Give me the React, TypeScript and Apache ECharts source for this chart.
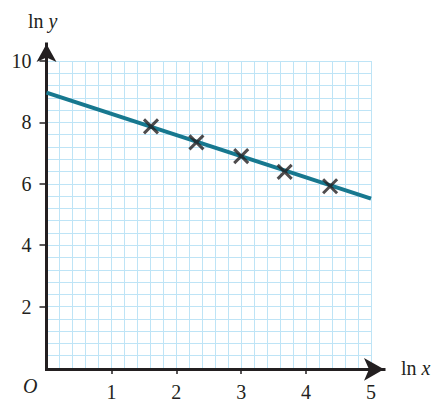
import React, { useEffect, useRef } from "react";
import * as echarts from "echarts";

// Measured points (ln x, ln y)
const pointX = [1.61, 2.31, 3.0, 3.67, 4.37];
const pointY = [7.87, 7.35, 6.9, 6.39, 5.92];
// Line of best fit end points
const fitX = [0, 5];
const fitY = [8.97, 5.52];
// Tick labels
const xTickLabels = [1, 2, 3, 4, 5];
const yTickLabels = [2, 4, 6, 8, 10];

const INK = "#231f20";
const GRIDC = "#bee4f6";
const TEAL = "#17788f";
const FONT = "Liberation Serif";

const labelFor = (list: number[]) => (v: number) =>
  list.indexOf(Math.round(v * 1000) / 1000) >= 0 ? String(v) : "";

export default function App() {
  const ref = useRef<HTMLDivElement>(null);
  useEffect(() => {
    if (!ref.current) return;
    const chart = echarts.init(ref.current, undefined, { renderer: "svg" });
    const option: any = {
      animation: false,
      backgroundColor: "#ffffff",
      textStyle: { fontFamily: FONT },
      grid: [
        { left: 46.5, top: 61, width: 324.5, height: 308.3 },
        { left: 46.5, top: 44, width: 337.5, height: 325.3 },
      ],
      xAxis: [
        {
          type: "value",
          gridIndex: 0,
          min: 0,
          max: 5,
          interval: 1,
          axisLine: { show: false },
          axisTick: {
            show: true,
            customValues: xTickLabels,
            length: 6,
            lineStyle: { color: INK, width: 1.5 },
          },
          minorTick: { show: false, splitNumber: 5 },
          axisLabel: {
            margin: 14,
            color: INK,
            fontFamily: FONT,
            fontSize: 20,
            formatter: labelFor(xTickLabels),
          },
          splitLine: { show: true, lineStyle: { color: GRIDC, width: 1 } },
          minorSplitLine: { show: true, lineStyle: { color: GRIDC, width: 1 } },
        },
        {
          type: "value",
          gridIndex: 1,
          min: 0,
          max: 1,
          axisLine: {
            show: true,
            onZero: false,
            symbol: ["none", "arrow"],
            symbolSize: [17, 20],
            lineStyle: { color: INK, width: 3, cap: "square" },
          },
          axisTick: { show: false },
          axisLabel: { show: false },
          splitLine: { show: false },
        },
      ],
      yAxis: [
        {
          type: "value",
          gridIndex: 0,
          min: 0,
          max: 10,
          interval: 2,
          axisLine: { show: false },
          axisTick: {
            show: true,
            customValues: yTickLabels,
            length: 7,
            lineStyle: { color: INK, width: 1.5 },
          },
          minorTick: { show: false, splitNumber: 5 },
          axisLabel: {
            margin: 15,
            color: INK,
            fontFamily: FONT,
            fontSize: 20,
            formatter: labelFor(yTickLabels),
          },
          splitLine: { show: true, lineStyle: { color: GRIDC, width: 1 } },
          minorSplitLine: { show: true, lineStyle: { color: GRIDC, width: 1 } },
        },
        {
          type: "value",
          gridIndex: 1,
          min: 0,
          max: 1,
          axisLine: {
            show: true,
            onZero: false,
            symbol: ["none", "arrow"],
            symbolSize: [15, 18],
            lineStyle: { color: INK, width: 3, cap: "square" },
          },
          axisTick: { show: false },
          axisLabel: { show: false },
          splitLine: { show: false },
        },
      ],
      series: [
        {
          type: "line",
          xAxisIndex: 0,
          yAxisIndex: 0,
          data: fitX.map((x, i) => [x, fitY[i]]),
          showSymbol: false,
          lineStyle: { color: TEAL, width: 4 },
          z: 2,
        },
        {
          type: "scatter",
          xAxisIndex: 0,
          yAxisIndex: 0,
          data: pointX.map((x, i) => [x, pointY[i]]),
          symbol: "path://M0,0L10,10M10,0L0,10",
          symbolSize: 14,
          itemStyle: { color: "none", borderColor: INK, borderWidth: 3 },
          z: 3,
        },
      ],
      graphic: [
        {
          type: "text",
          left: 23,
          top: 376,
          style: {
            text: "O",
            fontFamily: FONT,
            fontStyle: "italic",
            fontSize: 20,
            fill: INK,
          },
        },
        {
          type: "text",
          x: 28,
          y: 21,
          style: {
            text: "{a|ln }{b|y}",
            verticalAlign: "middle",
            rich: {
              a: { fontFamily: FONT, fontSize: 20, fill: INK, color: INK },
              b: { fontFamily: FONT, fontSize: 20, fontStyle: "italic", fill: INK, color: INK },
            },
          },
        },
        {
          type: "text",
          x: 401,
          y: 368,
          style: {
            text: "{a|ln }{b|x}",
            verticalAlign: "middle",
            rich: {
              a: { fontFamily: FONT, fontSize: 20, fill: INK, color: INK },
              b: { fontFamily: FONT, fontSize: 20, fontStyle: "italic", fill: INK, color: INK },
            },
          },
        },
      ],
    };
    chart.setOption(option);
    return () => chart.dispose();
  }, []);
  return (
    <div
      ref={ref}
      style={{ position: "fixed", left: 0, top: 0, width: 436, height: 402 }}
    />
  );
}
